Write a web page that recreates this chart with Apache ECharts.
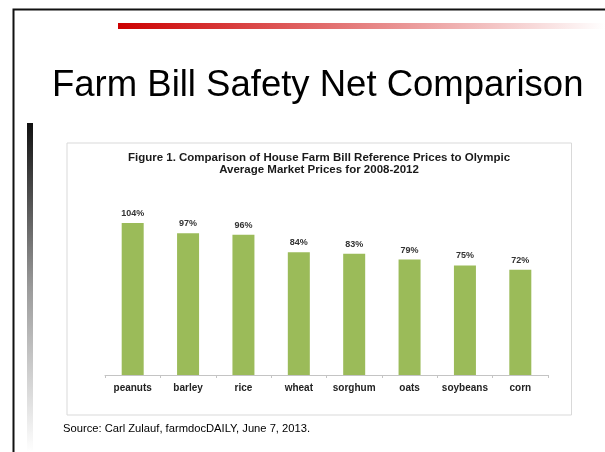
<!DOCTYPE html>
<html>
<head>
<meta charset="utf-8">
<script src="https://cdn.jsdelivr.net/npm/echarts@6/dist/echarts.min.js"></script>
<style>
  html, body { margin: 0; padding: 0; background: #fff; }
  #chart { width: 605px; height: 452px; }
</style>
</head>
<body>
<div id="chart"></div>
<script>
// reference price as % of Olympic average market price, 2008-2012
const categories = ["peanuts", "barley", "rice", "wheat", "sorghum", "oats", "soybeans", "corn"];
const percents = [104, 97, 96, 84, 83, 79, 75, 72];

const slideTitle = "Farm Bill Safety Net Comparison";
const figureTitle = "Figure 1. Comparison of House Farm Bill Reference Prices to Olympic\nAverage Market Prices for 2008-2012";
const sourceNote = "Source: Carl Zulauf, farmdocDAILY, June 7, 2013.";

const font = "Liberation Sans, Arial, sans-serif";

let chart = echarts.init(document.getElementById("chart"));

let option = {
  animation: false,
  grid: {
    left: 105,
    right: 57,
    top: 199.6,
    bottom: 77
  },
  xAxis: {
    type: "category",
    data: categories,
    axisLine: { lineStyle: { color: "#c4c4c4", width: 1 } },
    axisTick: { show: true, length: 3, lineStyle: { color: "#c4c4c4" } },
    axisLabel: {
      color: "#222",
      fontFamily: font,
      fontWeight: "bold",
      fontSize: 10,
      margin: 8,
      interval: 0
    }
  },
  yAxis: {
    type: "value",
    min: 0,
    max: 120,
    show: false
  },
  series: [
    {
      type: "bar",
      data: percents,
      barWidth: 22,
      itemStyle: { color: "#9bbb59" },
      label: {
        show: true,
        position: "top",
        distance: 5,
        formatter: p => p.value + "%",
        color: "#333",
        fontFamily: font,
        fontWeight: "bold",
        fontSize: 9
      }
    }
  ],
  graphic: [
    // slide frame
    {
      type: "rect",
      shape: { x: 13.5, y: 9.5, width: 700, height: 600 },
      style: { fill: "none", stroke: "#111", lineWidth: 2 },
      silent: true
    },
    // red accent bar
    {
      type: "rect",
      shape: { x: 118, y: 23, width: 487, height: 6 },
      style: {
        fill: new echarts.graphic.LinearGradient(0, 0, 1, 0, [
          { offset: 0, color: "#cc0000" },
          { offset: 1, color: "#ffffff" }
        ])
      },
      silent: true
    },
    // grey side bar
    {
      type: "rect",
      shape: { x: 27, y: 123, width: 6, height: 329 },
      style: {
        fill: new echarts.graphic.LinearGradient(0, 0, 0, 1, [
          { offset: 0, color: "#111111" },
          { offset: 0.5, color: "#9a9a9a" },
          { offset: 1, color: "#ffffff" }
        ])
      },
      silent: true
    },
    // chart box
    {
      type: "rect",
      shape: { x: 67, y: 143, width: 504.5, height: 272 },
      style: { fill: "none", stroke: "#d9d9d9", lineWidth: 1 },
      silent: true,
      z: -1
    },
    {
      type: "text",
      style: {
        x: 52,
        y: 86,
        text: slideTitle,
        font: "36.5px " + font,
        fill: "#000",
        verticalAlign: "middle"
      }
    },
    {
      type: "text",
      style: {
        x: 319,
        y: 152,
        text: figureTitle,
        font: "bold 11.5px " + font,
        lineHeight: 12,
        fill: "#1a1a1a",
        align: "center",
        verticalAlign: "top"
      }
    },
    {
      type: "text",
      style: {
        x: 63,
        y: 429,
        text: sourceNote,
        font: "11.2px " + font,
        fill: "#000",
        verticalAlign: "middle"
      }
    }
  ]
};

chart.setOption(option);
</script>
</body>
</html>
